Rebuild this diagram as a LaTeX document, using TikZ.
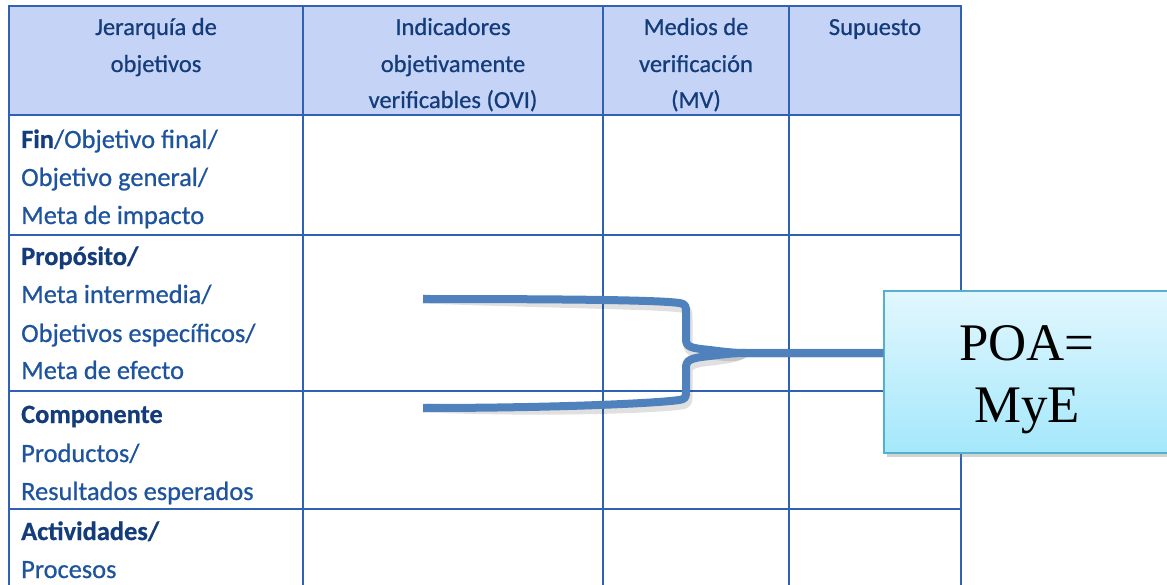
\documentclass[tikz,border=0pt]{standalone}
\usepackage{fontspec}
\setmainfont{Carlito}[FakeBold=0.7]
\newfontfamily\timesf{Liberation Serif}
\usetikzlibrary{shadows}
\definecolor{hdr}{RGB}{197,212,246}
\definecolor{gridc}{RGB}{47,98,178}
\definecolor{txt}{RGB}{30,84,158}
\definecolor{txtb}{RGB}{20,60,122}
\definecolor{conn}{RGB}{79,129,189}
\definecolor{boxtop}{RGB}{226,247,254}
\definecolor{boxbot}{RGB}{164,232,251}
\definecolor{boxline}{RGB}{84,176,204}
\newcommand{\bw}[1]{\textcolor{txtb}{\textbf{#1}}}
\begin{document}
\begin{tikzpicture}[x=1bp,y=-1bp,
  gridline/.style={draw=gridc,line width=2.2bp},
  body/.style={anchor=base west,inner sep=0,text=txt,font=\fontsize{26.5}{38}\selectfont},
  head/.style={anchor=base,inner sep=0,text=txtb,font=\fontsize{24.6}{37}\selectfont},
  link/.style={draw=conn,line width=8bp,line join=round},
  linkshadow/.style={draw=black,opacity=0.12,line width=9bp,line join=round},
  big/.style={anchor=base,inner sep=0,font=\timesf\fontsize{53}{62}\selectfont}]
\useasboundingbox (0,0) rectangle (1167,585);
\clip (0,0) rectangle (1167,585);
\fill[hdr] (9,6) rectangle (961,115);
\draw[gridline] (9,600) -- (9,6) -- (961,6) -- (961,600);
\foreach \x in {303,603,789} \draw[gridline] (\x,6) -- (\x,600);
\foreach \y in {115,235,391,509} \draw[gridline] (9,\y) -- (961,\y);
% header
\node[head] (h1a) at (156,35) {Jerarquía de};
\node[head] (h1b) at (156,72) {objetivos};
\node[head] (h2a) at (453,35) {Indicadores};
\node[head] (h2b) at (453,72) {objetivamente};
\node[head] (h2c) at (453,108) {verificables (OVI)};
\node[head] (h3a) at (696,35) {Medios de};
\node[head] (h3b) at (696,72) {verificación};
\node[head] (h3c) at (696,108) {(MV)};
\node[head] (h4a) at (875,35) {Supuesto};
% body
\node[body] (f1) at (21,148) {\bw{Fin}/Objetivo final/};
\node[body] (f2) at (21,186) {Objetivo general/};
\node[body] (f3) at (21,224) {Meta de impacto};
\node[body] (p1) at (21,265) {\bw{Propósito/}};
\node[body] (p2) at (21,303) {Meta intermedia/};
\node[body] (p3) at (21,342) {Objetivos específicos/};
\node[body] (p4) at (21,379) {Meta de efecto};
\node[body] (c1) at (21,423) {\bw{Componente}};
\node[body] (c2) at (21,462) {Productos/};
\node[body] (c3) at (21,500) {Resultados esperados};
\node[body] (a1) at (21,540) {\bw{Actividades/}};
\node[body] (a2) at (21,578) {Procesos};
% POA box
\node[draw=boxline,line width=1.5bp,top color=boxtop,bottom color=boxbot,
  drop shadow={opacity=0.35,shadow xshift=3bp,shadow yshift=-4bp},
  minimum width=286bp,minimum height=162bp,inner sep=0] (poa) at (1027,372) {};
\node[big] (poa1) at (1027,360) {POA=};
\node[big] (poa2) at (1027,422) {MyE};
% connector
\coordinate (t1) at (423,299);
\coordinate (b1) at (423,408);
\coordinate (j) at (745,353);
\def\toppath{(t1) .. controls (560,299) and (660,300) .. (679,303) .. controls (686,304) and (686,306) .. (686,313) -- (686,339) .. controls (686,347) and (690,348) .. (710,350) .. controls (725,352) and (735,353) .. (j) -- (j -| poa.west)}
\def\botpath{(b1) .. controls (560,408) and (660,403) .. (679,400) .. controls (686,399) and (686,397) .. (686,391) -- (686,368) .. controls (686,360) and (690,358) .. (710,356) .. controls (725,354) and (735,353) .. (j)}
\begin{scope}[shift={(2,5)}]
\draw[linkshadow] \toppath;
\draw[linkshadow] \botpath;
\end{scope}
\draw[link] \toppath;
\draw[link] \botpath;
\end{tikzpicture}
\end{document}
